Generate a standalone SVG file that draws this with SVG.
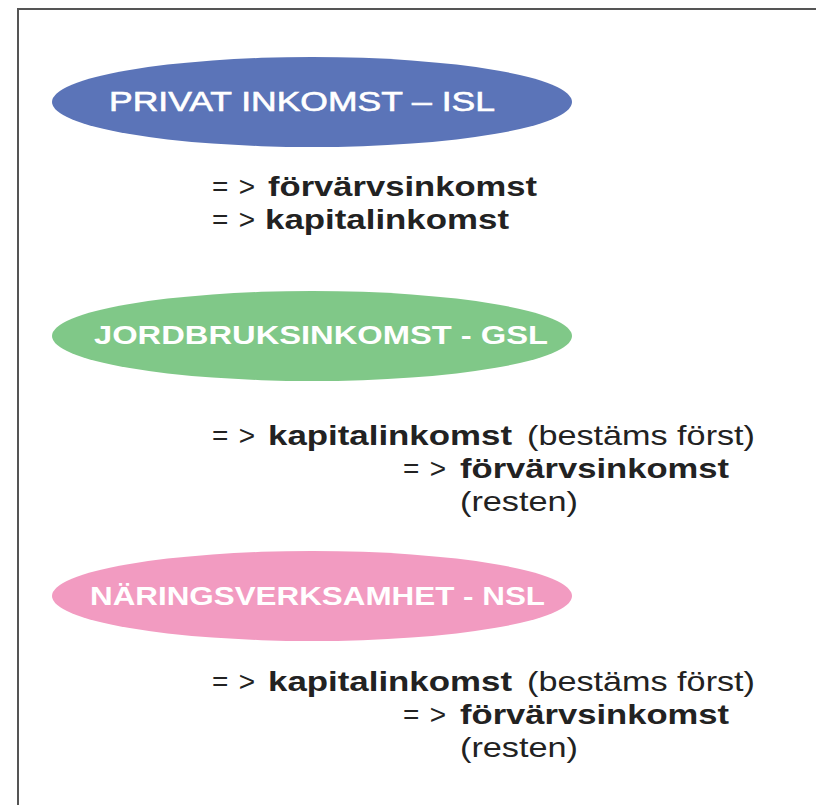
<svg xmlns="http://www.w3.org/2000/svg" width="816" height="805" viewBox="0 0 816 805">
<style>
.frame{fill:none;stroke:#555;stroke-width:2}
.title{font-family:"Liberation Sans Narrow","Liberation Sans",Arial,sans-serif;fill:#fff;font-size:27px}
.t1{font-weight:normal;stroke:#fff;stroke-width:0.6}
.tb{font-weight:bold;font-family:"Liberation Sans",Arial,sans-serif;font-size:25px}
.body{font-family:"Liberation Sans",Arial,sans-serif;font-size:28px;fill:#222}
.b{font-weight:bold}
</style>
<rect width="816" height="805" fill="#fff"/>
<path class="frame" d="M18 805 V9 H816"/>
<g id="node-isl">
<ellipse cx="312" cy="102" rx="260" ry="45" fill="#5b74b8"/>
<text class="title t1" x="109" y="111" textLength="386" lengthAdjust="spacingAndGlyphs">PRIVAT INKOMST – ISL</text>
</g>
<g id="text-isl">
<text class="body" x="212" y="196" textLength="43" lengthAdjust="spacing">=&gt;</text>
<text class="body b" x="268" y="196" textLength="269" lengthAdjust="spacingAndGlyphs">förvärvsinkomst</text>
<text class="body" x="212" y="229" textLength="43" lengthAdjust="spacing">=&gt;</text>
<text class="body b" x="265" y="229" textLength="244" lengthAdjust="spacingAndGlyphs">kapitalinkomst</text>
</g>
<g id="node-gsl">
<ellipse cx="312" cy="336" rx="260" ry="45" fill="#80c888"/>
<text class="title tb" x="94" y="344" textLength="454" lengthAdjust="spacingAndGlyphs">JORDBRUKSINKOMST - GSL</text>
</g>
<g id="text-gsl">
<text class="body" x="212" y="445" textLength="43" lengthAdjust="spacing">=&gt;</text>
<text class="body b" x="268" y="445" textLength="244" lengthAdjust="spacingAndGlyphs">kapitalinkomst</text>
<text class="body" x="527" y="445" textLength="228" lengthAdjust="spacingAndGlyphs">(bestäms först)</text>
<text class="body" x="403" y="478" textLength="43" lengthAdjust="spacing">=&gt;</text>
<text class="body b" x="460" y="478" textLength="269" lengthAdjust="spacingAndGlyphs">förvärvsinkomst</text>
<text class="body" x="460" y="511" textLength="118" lengthAdjust="spacingAndGlyphs">(resten)</text>
</g>
<g id="node-nsl">
<ellipse cx="312" cy="596" rx="260" ry="45" fill="#f29bc1"/>
<text class="title tb" x="90" y="605" textLength="455" lengthAdjust="spacingAndGlyphs">NÄRINGSVERKSAMHET - NSL</text>
</g>
<g id="text-nsl">
<text class="body" x="212" y="691" textLength="43" lengthAdjust="spacing">=&gt;</text>
<text class="body b" x="268" y="691" textLength="244" lengthAdjust="spacingAndGlyphs">kapitalinkomst</text>
<text class="body" x="527" y="691" textLength="228" lengthAdjust="spacingAndGlyphs">(bestäms först)</text>
<text class="body" x="403" y="724" textLength="43" lengthAdjust="spacing">=&gt;</text>
<text class="body b" x="460" y="724" textLength="269" lengthAdjust="spacingAndGlyphs">förvärvsinkomst</text>
<text class="body" x="460" y="757" textLength="118" lengthAdjust="spacingAndGlyphs">(resten)</text>
</g>
<g id="connectors"/>
</svg>
